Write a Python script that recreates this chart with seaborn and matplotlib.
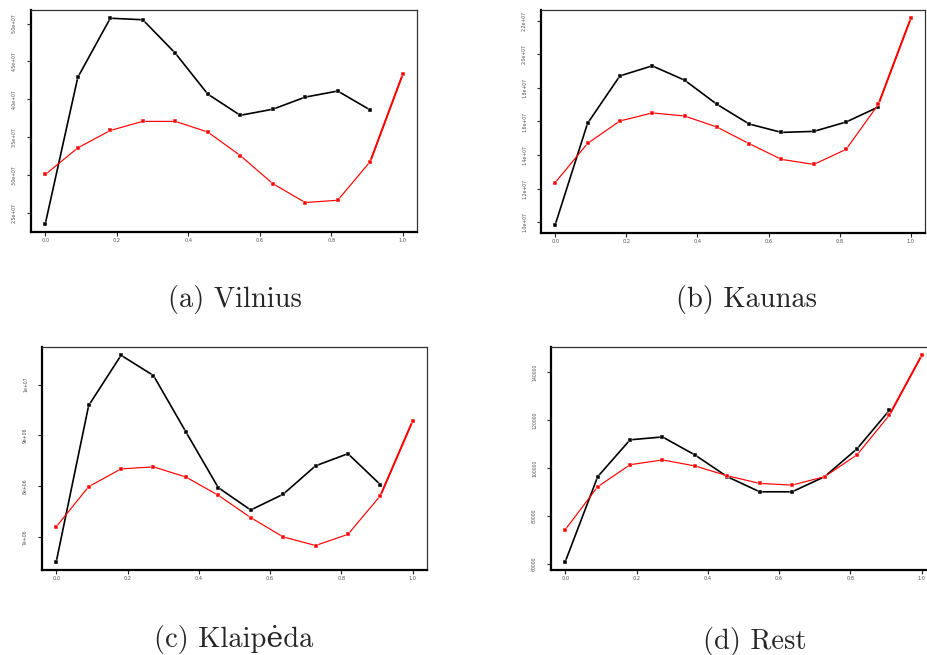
import numpy as np
import pandas as pd
import matplotlib
matplotlib.use("Agg")
import matplotlib.pyplot as plt
import seaborn as sns

sns.set_style("white")

# shared x grid (12 steps)
x_grid = [0.0, 0.0909, 0.1818, 0.2727, 0.3636, 0.4545, 0.5455, 0.6364, 0.7273, 0.8182, 0.9091, 1.0]

# Vilnius
vilnius_black = [2.36e7, 4.29e7, 5.07e7, 5.05e7, 4.61e7, 4.07e7, 3.79e7, 3.87e7, 4.03e7, 4.11e7, 3.86e7]
vilnius_red = [3.01e7, 3.36e7, 3.59e7, 3.71e7, 3.71e7, 3.57e7, 3.26e7, 2.89e7, 2.64e7, 2.67e7, 3.18e7, 4.33e7]
vilnius_ticks = [2.5e7, 3.0e7, 3.5e7, 4.0e7, 4.5e7, 5.0e7]
vilnius_labels = ["2.5e+07", "3.0e+07", "3.5e+07", "4.0e+07", "4.5e+07", "5.0e+07"]

# Kaunas
kaunas_black = [0.984e7, 1.589e7, 1.872e7, 1.932e7, 1.847e7, 1.703e7, 1.585e7, 1.535e7, 1.541e7, 1.597e7, 1.687e7]
kaunas_red = [1.236e7, 1.469e7, 1.603e7, 1.651e7, 1.633e7, 1.567e7, 1.468e7, 1.374e7, 1.344e7, 1.434e7, 1.703e7, 2.216e7]
kaunas_ticks = [1.0e7, 1.2e7, 1.4e7, 1.6e7, 1.8e7, 2.0e7, 2.2e7]
kaunas_labels = ["1.0e+07", "1.2e+07", "1.4e+07", "1.6e+07", "1.8e+07", "2.0e+07", "2.2e+07"]

# Klaipeda
klaipeda_black = [6.51e6, 9.59e6, 10.58e6, 10.18e6, 9.07e6, 7.97e6, 7.53e6, 7.84e6, 8.40e6, 8.64e6, 8.03e6]
klaipeda_red = [7.20e6, 7.99e6, 8.34e6, 8.38e6, 8.18e6, 7.82e6, 7.38e6, 7.00e6, 6.83e6, 7.05e6, 7.81e6, 9.29e6]
klaipeda_ticks = [7e6, 8e6, 9e6, 1e7]
klaipeda_labels = ["7e+06", "8e+06", "9e+06", "1e+07"]

# Rest
rest_black = [60800, 96300, 111700, 112900, 105400, 96300, 90000, 90000, 96300, 107900, 124000]
rest_red = [74200, 92100, 101300, 103300, 100800, 96700, 93500, 92800, 96300, 105400, 122000, 147000]
rest_ticks = [60000, 80000, 100000, 120000, 140000]
rest_labels = ["60000", "80000", "100000", "120000", "140000"]

x_ticks = [0.0, 0.2, 0.4, 0.6, 0.8, 1.0]
x_labels = ["0.0", "0.2", "0.4", "0.6", "0.8", "1.0"]

captions = ["(a) Vilnius", "(b) Kaunas", "(c) Klaipėda", "(d) Rest"]

fig = plt.figure(figsize=(9.28, 6.55), dpi=100)
W, H = 928.0, 655.0

# axes boxes in pixels: left, top, right, bottom
boxes = [(31, 10, 417, 232), (541, 10, 925, 233), (42, 347, 427, 570), (551, 347, 936, 570)]
caption_pos = [(235, 300), (747, 300), (234, 640), (755, 641)]

panels = [
    (vilnius_black, vilnius_red, vilnius_ticks, vilnius_labels),
    (kaunas_black, kaunas_red, kaunas_ticks, kaunas_labels),
    (klaipeda_black, klaipeda_red, klaipeda_ticks, klaipeda_labels),
    (rest_black, rest_red, rest_ticks, rest_labels),
]

for (blk, red, yt, yl), (l, t, r, b), cap, (cx, cy) in zip(panels, boxes, captions, caption_pos):
    ax = fig.add_axes([l / W, 1 - b / H, (r - l) / W, (b - t) / H])
    df_b = pd.DataFrame({"x": x_grid[:len(blk)], "y": blk})
    df_r = pd.DataFrame({"x": x_grid[:len(red)], "y": red})
    sns.lineplot(data=df_b, x="x", y="y", color="black", linewidth=1.2,
                 marker="s", markersize=2.4, markeredgecolor="white", markeredgewidth=0.3, ax=ax)
    # last segment looks heavier in the original
    sns.lineplot(data=df_r.iloc[-2:], x="x", y="y", color="red", linewidth=1.4, ax=ax)
    sns.lineplot(data=df_r, x="x", y="y", color="red", linewidth=0.85,
                 marker="s", markersize=2.6, markeredgecolor="white", markeredgewidth=0.35, ax=ax)

    lo = min(min(blk), min(red))
    hi = max(max(blk), max(red))
    pad = 0.04 * (hi - lo)
    ax.set_ylim(lo - pad, hi + pad)
    ax.set_xlim(-0.04, 1.04)

    ax.set_xticks(x_ticks)
    ax.set_xticklabels(x_labels, fontsize=3.6, color="#505050")
    ax.set_yticks(yt)
    ax.set_yticklabels(yl, fontsize=3.3, color="#505050", rotation=90, va="center")
    ax.tick_params(axis="x", direction="out", length=3, width=0.8, pad=1.5, bottom=True)
    ax.tick_params(axis="y", direction="out", length=3, width=0.8, pad=7, left=True)
    ax.set_xlabel("")
    ax.set_ylabel("")
    for side in ["left", "bottom"]:
        ax.spines[side].set_color("black")
        ax.spines[side].set_linewidth(1.6)
    for side in ["top", "right"]:
        ax.spines[side].set_color("#333333")
        ax.spines[side].set_linewidth(0.9)

    fig.text(cx / W, 1 - cy / H, cap, ha="center", va="center",
             fontsize=20.5, family=["cmr10", "DejaVu Serif"])

fig.savefig("out.png", dpi=100)
